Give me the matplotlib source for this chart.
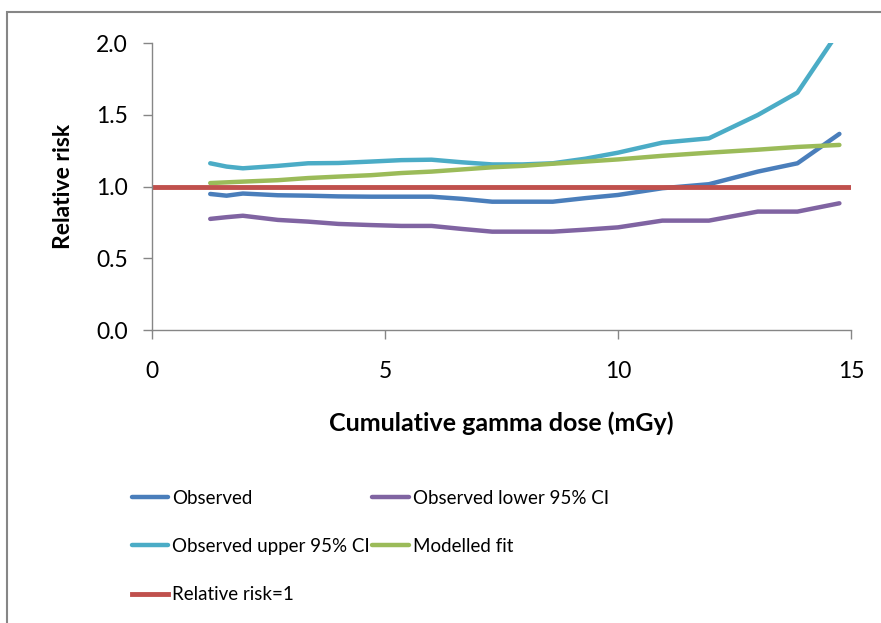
import matplotlib
matplotlib.use("Agg")
import matplotlib.pyplot as plt
from matplotlib.patches import Rectangle

# dose points (mGy) and relative risk series
dose = [1.25, 1.6, 1.95, 2.7, 3.35, 4.0, 4.7, 5.35, 6.0, 6.65, 7.3, 7.95,
        8.6, 9.3, 10.0, 10.95, 11.95, 13.0, 13.85, 14.75]
observed = [0.949, 0.937, 0.952, 0.940, 0.937, 0.932, 0.930, 0.930, 0.930, 0.915, 0.895, 0.895,
            0.895, 0.920, 0.942, 0.989, 1.017, 1.105, 1.163, 1.368]
lower_ci = [0.775, 0.787, 0.797, 0.768, 0.756, 0.740, 0.732, 0.726, 0.726, 0.705, 0.686, 0.686,
            0.686, 0.700, 0.716, 0.763, 0.763, 0.826, 0.826, 0.884]
upper_ci = [1.163, 1.140, 1.128, 1.145, 1.163, 1.165, 1.175, 1.185, 1.188, 1.170, 1.155, 1.155,
            1.163, 1.195, 1.237, 1.307, 1.337, 1.500, 1.656, 2.090]
modelled = [1.025, 1.030, 1.035, 1.045, 1.060, 1.070, 1.080, 1.095, 1.105, 1.120, 1.135, 1.145,
            1.160, 1.175, 1.190, 1.215, 1.237, 1.258, 1.277, 1.291]
rr_line_x = [0, 15]
rr_line_y = [1.0, 1.0]

plt.rcParams["font.family"] = ["Lato", "DejaVu Sans"]

fig = plt.figure(figsize=(8.81, 6.23), dpi=100)
ax = fig.add_axes([0.1725, 0.4703, 0.966 - 0.1725, 0.9305 - 0.4703])

# outer chart border (only left/top visible in the crop)
fig.patches.append(Rectangle((7 / 881, -0.5), 2, 0.5 + 1 - 12 / 623, transform=fig.transFigure,
                             fill=False, edgecolor="#868686", linewidth=1.5))

lw = 3.2
h_obs, = ax.plot(dose, observed, color="#4A7EBB", lw=lw, label="Observed", solid_capstyle="round")
h_low, = ax.plot(dose, lower_ci, color="#8064A2", lw=lw, label="Observed lower 95% CI", solid_capstyle="round")
h_up, = ax.plot(dose, upper_ci, color="#4BACC6", lw=lw, label="Observed upper 95% CI", solid_capstyle="round")
h_mod, = ax.plot(dose, modelled, color="#9BBB59", lw=lw, label="Modelled fit", solid_capstyle="round")
h_rr, = ax.plot(rr_line_x, rr_line_y, color="#C0504D", lw=3.5, label="Relative risk=1")

ax.set_xlim(0, 15)
ax.set_ylim(0, 2.0)
ax.set_xticks([0, 5, 10, 15])
ax.set_yticks([0.0, 0.5, 1.0, 1.5, 2.0])
ax.set_yticklabels(["0.0", "0.5", "1.0", "1.5", "2.0"])

for s in ["top", "right"]:
    ax.spines[s].set_visible(False)
for s in ["left", "bottom"]:
    ax.spines[s].set_color("#868686")
    ax.spines[s].set_linewidth(1.0)
ax.tick_params(axis="both", direction="out", length=6.5, width=1.0, color="#868686",
               labelsize=16.5, labelcolor="black")
ax.tick_params(axis="y", pad=11)
ax.tick_params(axis="x", pad=16)

ax.set_xlabel("Cumulative gamma dose (mGy)", fontsize=18, fontweight="bold", labelpad=21)
ax.set_ylabel("Relative risk", fontsize=16.5, fontweight="bold", labelpad=16)

handles = [h_obs, h_up, h_rr, h_low, h_mod]
fig.legend(handles=handles, labels=[h.get_label() for h in handles], ncol=2,
           loc="upper left", bbox_to_anchor=(124 / 881, 1 - 482 / 623), frameon=False,
           fontsize=13.5, handlelength=1.95, handletextpad=0.2, columnspacing=0.15,
           labelspacing=1.68, borderaxespad=0)

fig.savefig("out.png", dpi=100)
